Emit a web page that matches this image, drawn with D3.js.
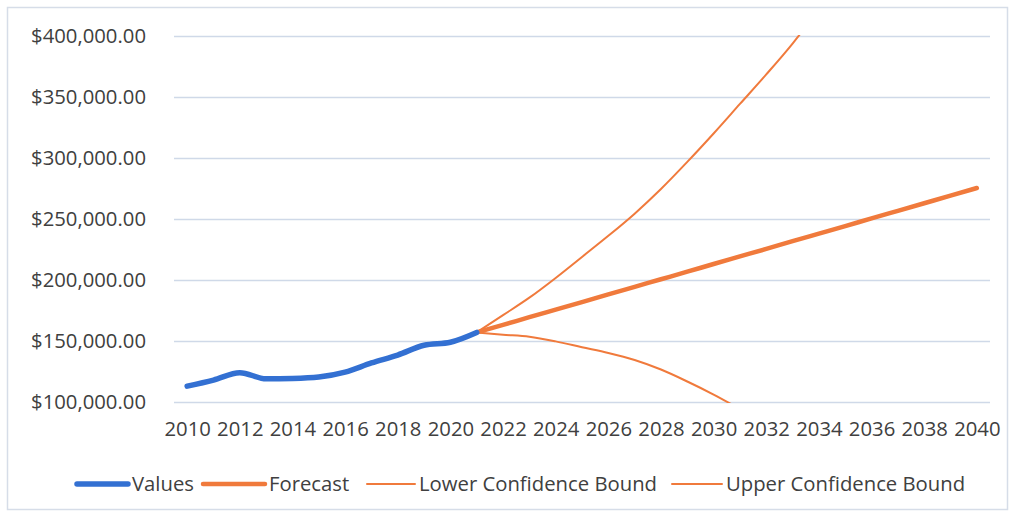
<!DOCTYPE html>
<html>
<head>
<meta charset="utf-8">
<script src="https://cdn.jsdelivr.net/npm/d3@7/dist/d3.min.js"></script>
<style>
  html, body { margin: 0; padding: 0; background: #ffffff; }
  svg { display: block; }
  text { font-family: "Open Sans", Lato, sans-serif; fill: #404040; }
</style>
</head>
<body>
<svg id="chart" width="1014" height="516"></svg>
<script>
// ---- data ----
const years = d3.range(2010, 2041);
const tickYears = [2010, 2012, 2014, 2016, 2018, 2020, 2022, 2024, 2026, 2028, 2030, 2032, 2034, 2036, 2038, 2040];
const yTicks = [100000, 150000, 200000, 250000, 300000, 350000, 400000];

const valueYears = [2010, 2011, 2012, 2013, 2014, 2015, 2016, 2017, 2018, 2019, 2020, 2021];
const values = [113000, 118000, 124000, 119000, 119300, 120500, 124500, 132000, 138500, 146500, 149000, 157000];

const forecastYears = [2021, 2022, 2023, 2024, 2025, 2026, 2027, 2028, 2029, 2030, 2031, 2032, 2033, 2034, 2035, 2036, 2037, 2038, 2039, 2040];
const forecast = [157000, 163200, 169500, 175700, 181900, 188200, 194400, 200600, 206800, 213100, 219300, 225500, 231800, 238000, 244200, 250500, 256700, 262900, 269100, 275400];

const upperYears = [2021, 2022, 2023, 2024, 2025, 2026, 2027, 2028, 2029, 2030, 2031, 2032, 2033, 2034];
const upper = [157000, 171200, 185500, 201700, 218900, 236200, 254400, 274600, 296800, 320100, 344300, 368500, 393800, 422000];

const lowerYears = [2021, 2022, 2023, 2024, 2025, 2026, 2027, 2028, 2029, 2030, 2031];
const lower = [157000, 155200, 153500, 149700, 144900, 140200, 134400, 126600, 116800, 106100, 94300];

const seriesNames = ["Values", "Forecast", "Lower Confidence Bound", "Upper Confidence Bound"];

// ---- layout ----
const svg = d3.select("#chart");
const plot = { left: 174, right: 990, top: 36, bottom: 402 };
const blue = "#3370d2";
const orange = "#f07a3c";
const fontSize = "20.3px";

svg.append("rect")
  .attr("x", 7.5).attr("y", 7.5).attr("width", 1000).attr("height", 502)
  .attr("fill", "none").attr("stroke", "#d6dde8").attr("stroke-width", 1.5);

const x = d3.scalePoint().domain(years).range([plot.left, plot.right]).padding(0.5);
const y = d3.scaleLinear().domain([100000, 400000]).range([plot.bottom, plot.top]);

// y axis with gridlines
const yAxis = d3.axisLeft(y)
  .tickValues(yTicks)
  .tickFormat(d3.format("$,.2f"))
  .tickSizeInner(-(plot.right - plot.left))
  .tickSizeOuter(0)
  .tickPadding(28);
const gy = svg.append("g").attr("transform", `translate(${plot.left},0)`).call(yAxis);
gy.select(".domain").remove();
gy.selectAll(".tick line").attr("stroke", "#cfd9e8").attr("stroke-width", 1.5);
gy.selectAll(".tick text").style("font-size", fontSize).attr("fill", "#404040");

// x axis
const xAxis = d3.axisBottom(x).tickValues(tickYears).tickSize(0).tickPadding(20);
const gx = svg.append("g").attr("transform", `translate(0,${plot.bottom})`).call(xAxis);
gx.select(".domain").remove();
gx.selectAll(".tick text").style("font-size", fontSize).attr("fill", "#404040");

// clip
svg.append("clipPath").attr("id", "plotclip")
  .append("rect").attr("x", plot.left).attr("y", plot.top - 1)
  .attr("width", plot.right - plot.left).attr("height", plot.bottom - plot.top + 2);

const g = svg.append("g").attr("clip-path", "url(#plotclip)");

function drawLine(ys, vs, color, width) {
  const pts = ys.map((yr, i) => [yr, vs[i]]);
  g.append("path")
    .datum(pts)
    .attr("fill", "none")
    .attr("stroke", color)
    .attr("stroke-width", width)
    .attr("stroke-linejoin", "round")
    .attr("stroke-linecap", "round")
    .attr("d", d3.line().x(d => x(d[0])).y(d => y(d[1])).curve(d3.curveMonotoneX));
}

drawLine(lowerYears, lower, orange, 2);
drawLine(upperYears, upper, orange, 2);
drawLine(forecastYears, forecast, orange, 4.5);
drawLine(valueYears, values, blue, 5.5);

// legend
const legendStarts = [77, 203, 367, 672];
const legendLens = [51, 62, 48, 50];
const legendColors = [blue, orange, orange, orange];
const legendWidths = [5.5, 4.5, 2, 2];
const legendY = 484;
const lg = svg.append("g");
seriesNames.forEach((name, i) => {
  lg.append("line")
    .attr("x1", legendStarts[i]).attr("x2", legendStarts[i] + legendLens[i])
    .attr("y1", legendY).attr("y2", legendY)
    .attr("stroke", legendColors[i]).attr("stroke-width", legendWidths[i])
    .attr("stroke-linecap", "round");
  lg.append("text")
    .attr("x", legendStarts[i] + legendLens[i] + 4)
    .attr("y", legendY).attr("dy", "0.35em")
    .style("font-size", fontSize)
    .text(name);
});
</script>
</body>
</html>
